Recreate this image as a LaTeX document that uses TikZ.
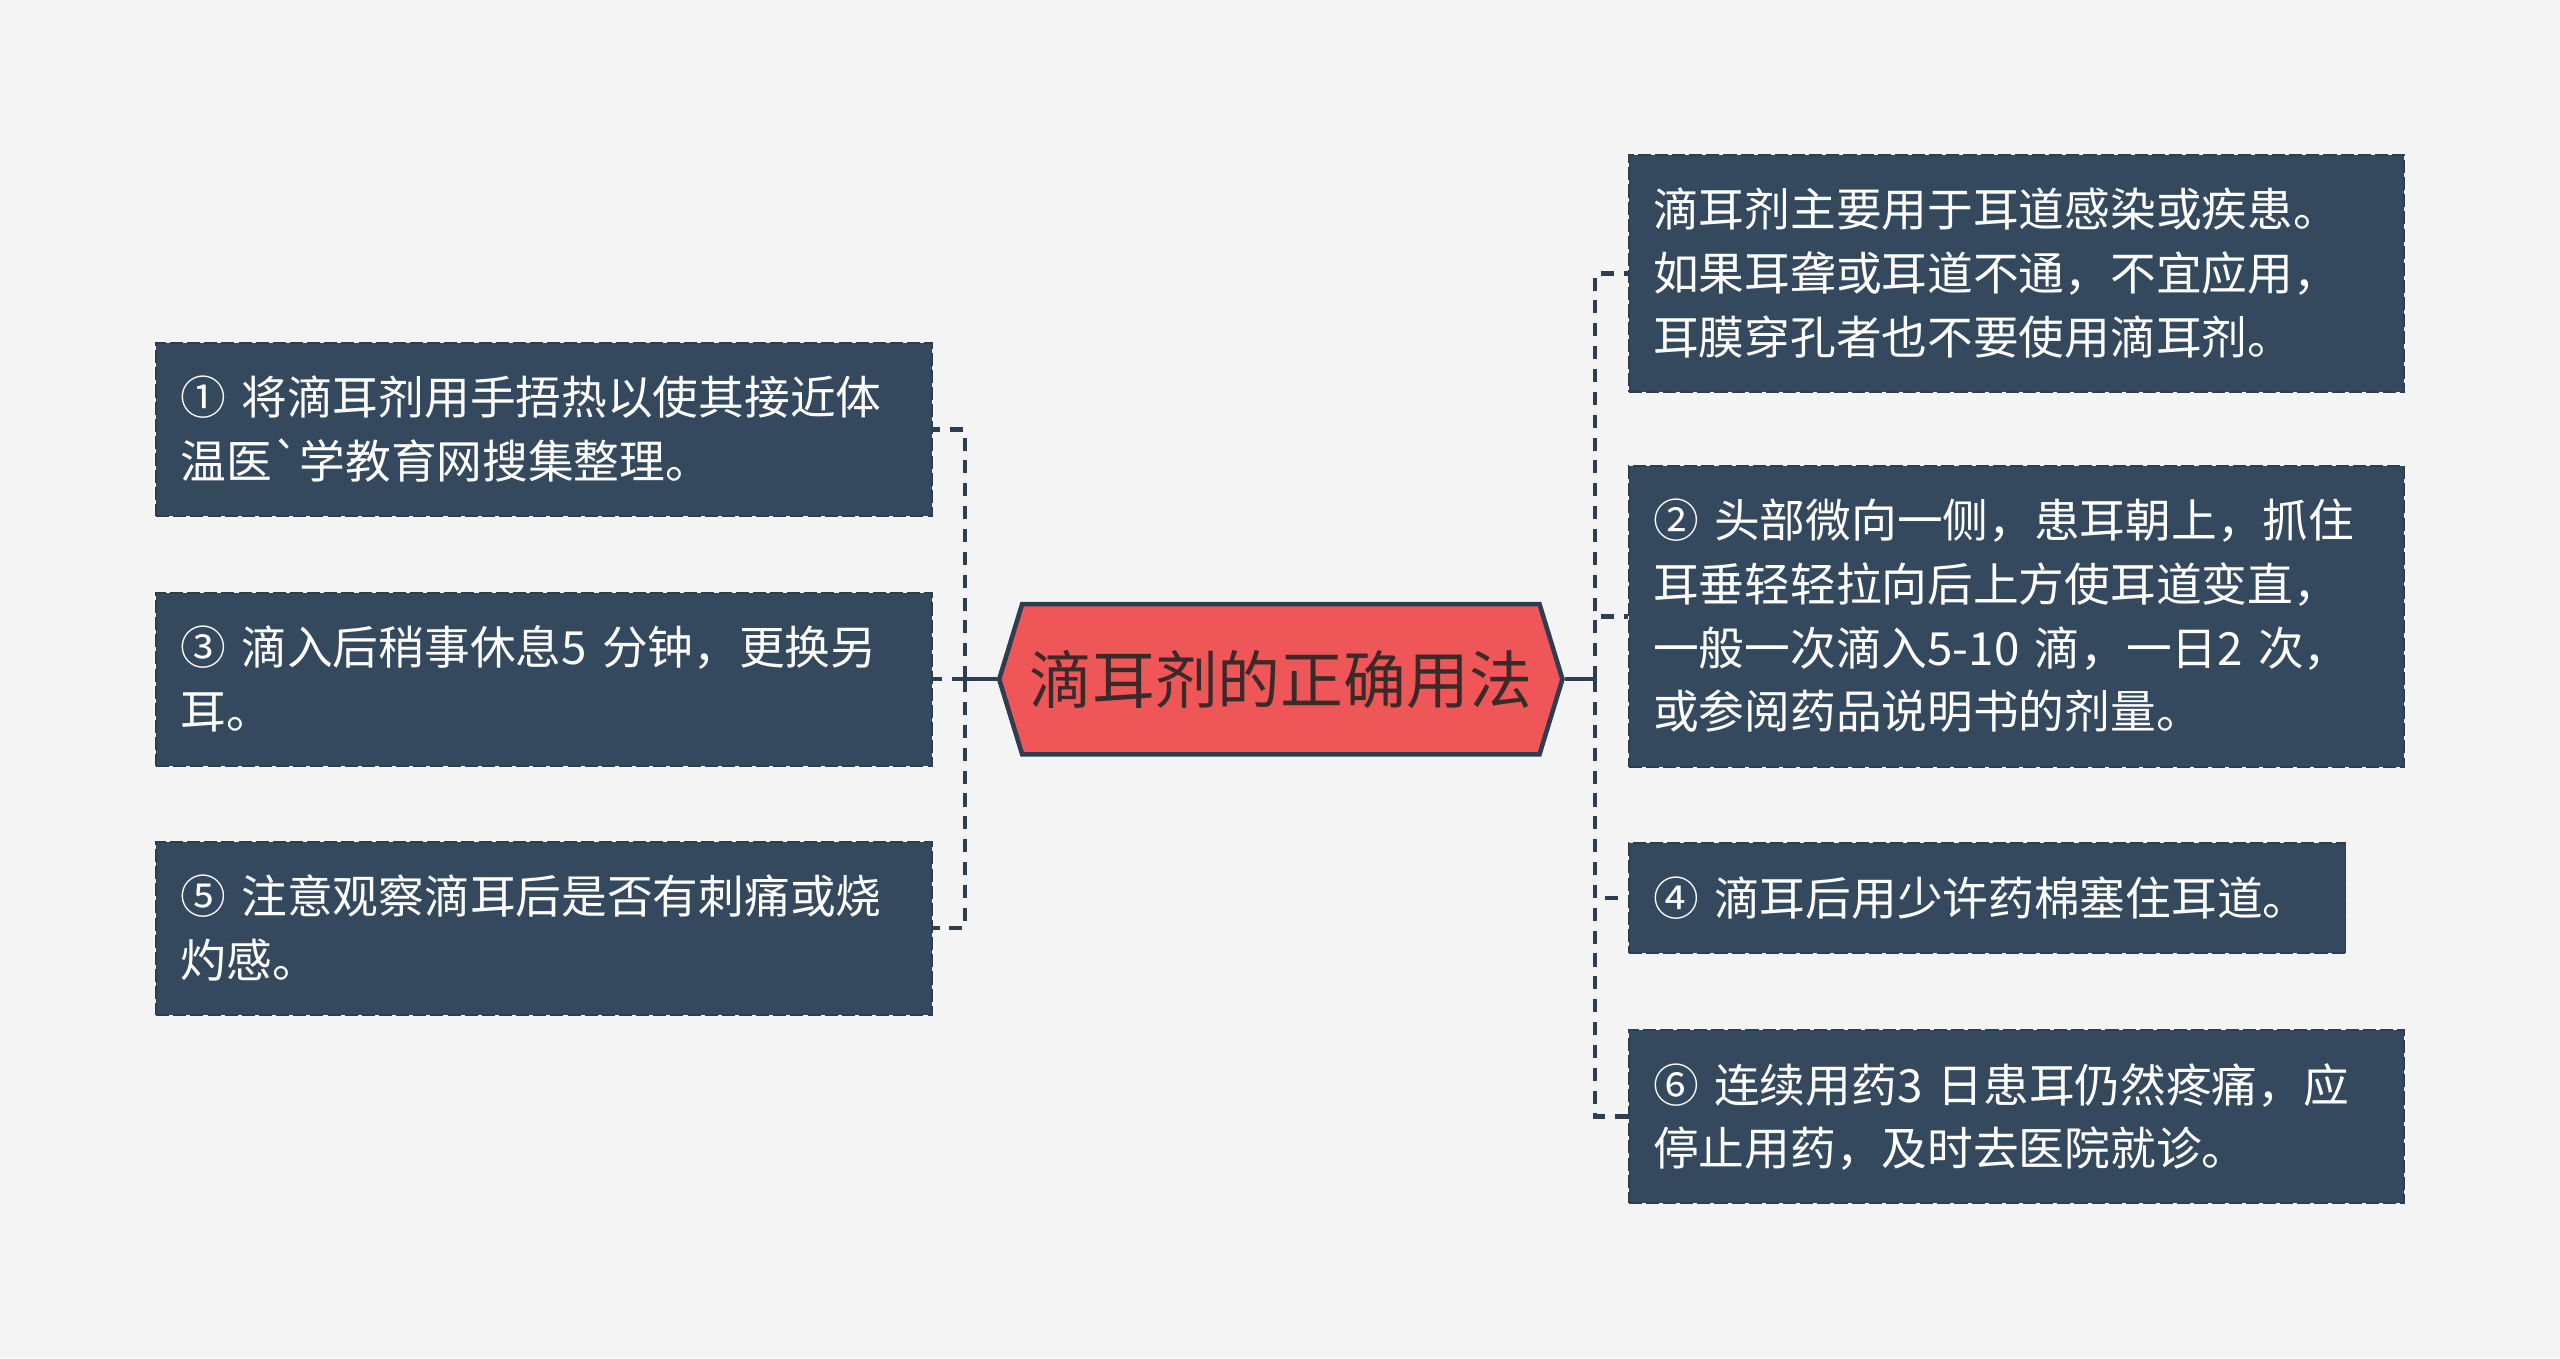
\documentclass[tikz,border=0pt]{standalone}
\usepackage{fontspec}
\setmainfont{Noto Sans CJK SC}
\usetikzlibrary{shapes.symbols}
\definecolor{bgcol}{HTML}{F4F4F4}
\definecolor{navy}{HTML}{34495E}
\definecolor{edgecol}{HTML}{2C3E50}
\definecolor{gapcol}{HTML}{DCE1E5}
\definecolor{rootred}{HTML}{EF5657}
\definecolor{roottext}{HTML}{3A2A2A}
\tikzset{
    root/.style={signal, signal to=west and east, signal pointer angle=146, draw=edgecol, line width=2.8pt, fill=rootred, text=roottext, minimum width=345pt, minimum height=92pt, inner sep=0pt, font=\fontsize{38.5}{44}\selectfont},
    topic/.style={preaction={draw=gapcol, line width=1.2pt}, draw=edgecol, line width=1.2pt, dash pattern=on 8pt off 2.5pt, fill=navy, text=white, anchor=west, align=left, text width=445pt, inner xsep=15pt, inner ysep=14pt, font=\fontsize{28}{39}\selectfont, execute at begin node=\rule{0pt}{30pt}, execute at end node=\rule[-9pt]{0pt}{9pt}},
    link/.style={draw=edgecol, line width=2.8pt, dash pattern=on 8pt off 6pt}
}
\begin{document}
\begin{tikzpicture}
  [
    x                       = 1pt,
    y                       = -1pt,
  ]
  \fill [bgcol] (0,0) rectangle (1568,832);
  \node [root] (root) at (784.5,416) {滴耳剂的正确用法};
  % left side
  \node [topic] (t1) at (95,263)   {① 将滴耳剂用手捂热以使其接近体\\温医\textasciigrave 学教育网搜集整理。};
  \node [topic] (t3) at (95,416)   {③ 滴入后稍事休息5 分钟，更换另\\耳。};
  \node [topic] (t5) at (95,568.5) {⑤ 注意观察滴耳后是否有刺痛或烧\\灼感。};
  % right side
  \node [topic] (t0) at (997,167.5) {滴耳剂主要用于耳道感染或疾患。\\如果耳聋或耳道不通，不宜应用，\\耳膜穿孔者也不要使用滴耳剂。};
  \node [topic] (t2) at (997,377.5) {② 头部微向一侧，患耳朝上，抓住\\耳垂轻轻拉向后上方使耳道变直，\\一般一次滴入5-10 滴，一日2 次，\\或参阅药品说明书的剂量。};
  \node [topic, text width=409pt] (t4) at (997,550) {④ 滴耳后用少许药棉塞住耳道。};
  \node [topic] (t6) at (997,684)   {⑥ 连续用药3 日患耳仍然疼痛，应\\停止用药，及时去医院就诊。};
  % connectors
  \coordinate (lj) at (591,416);
  \coordinate (rj) at (977,416);
  \draw [link, solid] (root.west) -- (lj);
  \foreach \t in {t1,t3,t5}
    \draw [link] (lj) |- (\t.east);
  \draw [link, solid] (root.east) -- (rj);
  \foreach \t in {t0,t2,t4,t6}
    \draw [link] (rj) |- (\t.west);
\end{tikzpicture}
\end{document}
